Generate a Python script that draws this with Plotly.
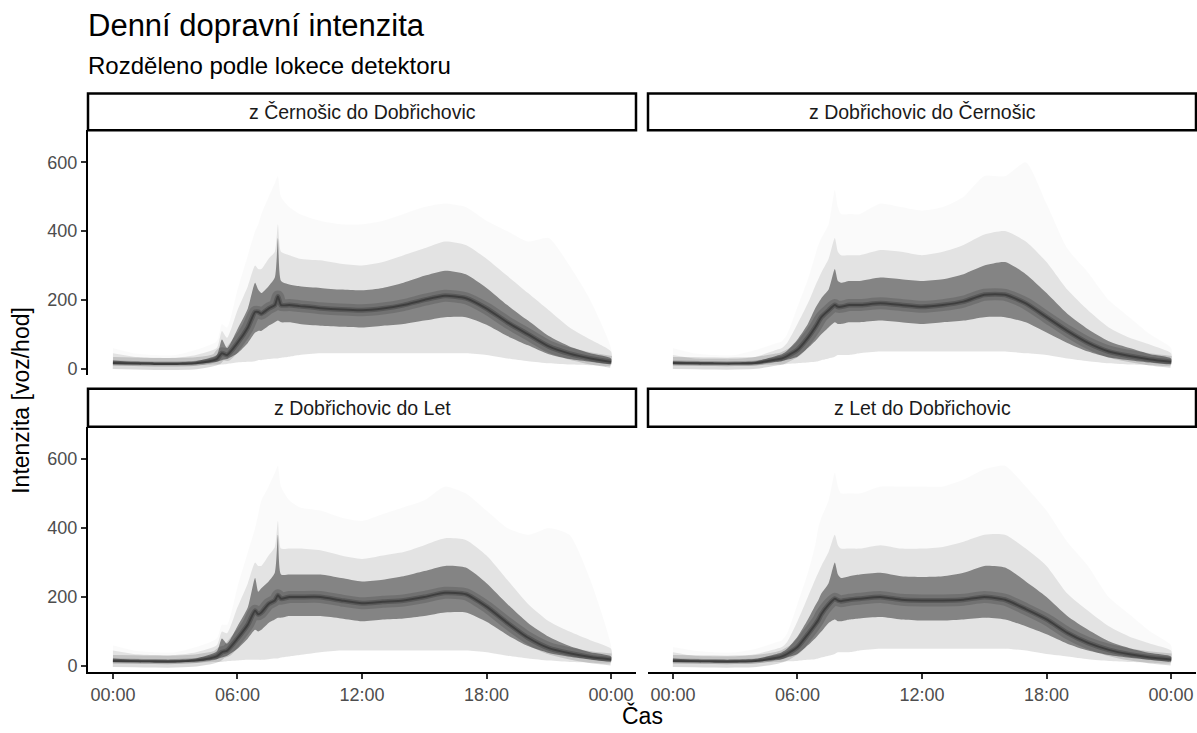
import plotly.graph_objects as go

# ---- data ----
T = [0, 1, 2, 3, 4, 5, 5.25, 5.5, 6, 6.5, 6.85, 7.0, 7.15, 7.5, 7.8, 7.95, 8.1, 8.5,
     9, 10, 11, 12, 13, 14, 15, 16, 17, 18, 19, 20, 21, 22, 23, 24]

PANELS = ["z Černošic do Dobřichovic", "z Dobřichovic do Černošic",
          "z Dobřichovic do Let", "z Let do Dobřichovic"]

# z Černošic do Dobřichovic
cd_med  = [17, 15, 14, 14, 16, 28, 45, 40, 75, 120, 165, 165, 160, 175, 185, 210, 185, 185, 182, 176, 172, 170, 175, 185, 200, 212, 205, 175, 135, 100, 65, 44, 30, 20]
cd_blo  = [13, 12, 11, 11, 13, 20, 25, 28, 45, 75, 105, 110, 110, 125, 135, 140, 135, 135, 130, 125, 122, 120, 125, 130, 140, 150, 150, 128, 95, 68, 42, 28, 20, 14]
cd_bhi  = [24, 20, 19, 19, 22, 40, 85, 60, 115, 175, 250, 230, 220, 240, 265, 380, 255, 245, 240, 235, 230, 228, 235, 250, 270, 285, 275, 235, 185, 140, 95, 65, 45, 30]
cd_low  = [10, 10, 10, 10, 10, 12, 12, 14, 18, 20, 22, 25, 25, 28, 30, 30, 32, 35, 40, 45, 45, 45, 45, 45, 45, 45, 45, 40, 30, 22, 16, 12, 10, 10]
cd_high = [45, 35, 32, 32, 40, 60, 110, 90, 170, 240, 300, 290, 290, 320, 340, 420, 340, 330, 320, 315, 305, 300, 310, 330, 350, 370, 360, 320, 270, 220, 170, 120, 85, 50]
cd_peak = [60, 45, 40, 40, 55, 80, 130, 120, 230, 330, 400, 420, 450, 500, 540, 560, 500, 470, 450, 430, 420, 420, 430, 450, 470, 480, 470, 430, 400, 370, 380, 300, 200, 60]

# z Dobřichovic do Černošic
dc_med  = [17, 16, 15, 15, 17, 27, 30, 37, 55, 90, 120, 135, 150, 170, 185, 180, 180, 185, 185, 190, 185, 180, 185, 195, 215, 215, 190, 150, 110, 75, 50, 37, 27, 20]
dc_blo  = [13, 12, 12, 12, 13, 20, 22, 26, 35, 60, 80, 90, 100, 120, 135, 130, 130, 135, 135, 140, 135, 130, 135, 140, 150, 150, 135, 105, 75, 50, 33, 25, 18, 14]
dc_bhi  = [22, 20, 19, 19, 22, 38, 42, 52, 85, 130, 175, 190, 205, 230, 290, 255, 250, 255, 255, 265, 260, 255, 260, 275, 300, 310, 275, 220, 160, 115, 80, 60, 42, 30]
dc_low  = [10, 10, 10, 10, 10, 12, 12, 14, 16, 18, 20, 22, 25, 30, 35, 40, 40, 40, 45, 50, 50, 50, 50, 50, 50, 50, 45, 40, 30, 22, 16, 12, 10, 10]
dc_high = [40, 30, 28, 28, 35, 55, 60, 75, 130, 190, 240, 260, 280, 320, 380, 340, 330, 330, 330, 345, 340, 330, 340, 360, 390, 400, 370, 310, 230, 170, 120, 90, 70, 45]
dc_peak = [60, 45, 40, 40, 55, 75, 80, 100, 180, 260, 330, 360, 380, 420, 520, 470, 450, 450, 450, 480, 470, 460, 470, 500, 560, 560, 600, 480, 350, 280, 200, 150, 100, 60]

# z Dobřichovic do Let
dl_med  = [15, 14, 13, 13, 16, 28, 40, 45, 80, 120, 160, 150, 155, 180, 190, 205, 195, 200, 200, 200, 190, 182, 186, 190, 200, 212, 208, 172, 125, 82, 52, 37, 26, 19]
dl_blo  = [12, 11, 10, 10, 13, 20, 25, 30, 50, 80, 105, 100, 105, 125, 135, 140, 140, 145, 145, 145, 138, 130, 135, 138, 145, 155, 155, 128, 90, 58, 38, 27, 19, 14]
dl_bhi  = [22, 19, 18, 18, 22, 42, 80, 65, 115, 170, 255, 215, 225, 245, 270, 380, 265, 265, 265, 265, 255, 245, 250, 260, 275, 290, 285, 240, 180, 125, 85, 58, 40, 28]
dl_low  = [10, 10, 10, 10, 10, 12, 12, 14, 16, 18, 18, 18, 18, 20, 22, 22, 25, 28, 32, 40, 45, 45, 45, 45, 45, 45, 45, 40, 30, 22, 16, 12, 10, 10]
dl_high = [45, 35, 32, 32, 40, 60, 100, 95, 170, 240, 300, 290, 290, 320, 345, 420, 340, 340, 340, 335, 320, 310, 320, 330, 350, 370, 365, 320, 250, 180, 130, 100, 75, 50]
dl_peak = [60, 45, 40, 40, 55, 80, 120, 120, 230, 330, 400, 440, 480, 520, 560, 580, 520, 480, 460, 450, 430, 420, 440, 460, 480, 520, 500, 450, 400, 380, 400, 380, 250, 60]

# z Let do Dobřichovic
ld_med  = [15, 14, 13, 13, 15, 24, 28, 35, 55, 92, 120, 133, 150, 178, 195, 190, 188, 192, 195, 200, 192, 190, 190, 192, 200, 192, 165, 135, 96, 67, 47, 34, 25, 19]
ld_blo  = [12, 11, 10, 10, 12, 18, 20, 25, 35, 60, 80, 90, 100, 125, 135, 130, 130, 135, 138, 142, 135, 132, 132, 135, 140, 135, 115, 92, 65, 45, 32, 24, 18, 14]
ld_bhi  = [22, 19, 18, 18, 21, 35, 40, 50, 85, 135, 175, 190, 210, 240, 300, 265, 255, 260, 265, 270, 260, 258, 260, 270, 290, 285, 245, 200, 145, 105, 72, 52, 38, 28]
ld_low  = [10, 10, 10, 10, 10, 12, 12, 14, 15, 18, 20, 22, 25, 30, 35, 40, 40, 40, 45, 50, 50, 50, 50, 50, 50, 50, 45, 35, 28, 20, 15, 12, 10, 10]
ld_high = [40, 30, 28, 28, 35, 50, 55, 70, 130, 200, 250, 270, 290, 330, 380, 350, 340, 340, 340, 350, 340, 340, 345, 360, 380, 380, 340, 290, 210, 160, 115, 85, 65, 45]
ld_peak = [55, 45, 40, 40, 50, 70, 75, 95, 180, 270, 350, 400, 430, 480, 560, 520, 500, 500, 500, 520, 520, 520, 520, 540, 570, 580, 520, 450, 360, 290, 200, 150, 100, 60]

X_TICKS = [0, 6, 12, 18, 24]
X_TICKTEXT = ["00:00", "06:00", "12:00", "18:00", "00:00"]
Y_TICKS = [0, 200, 400, 600]

series = [
    (cd_med, cd_blo, cd_bhi, cd_low, cd_high, cd_peak),
    (dc_med, dc_blo, dc_bhi, dc_low, dc_high, dc_peak),
    (dl_med, dl_blo, dl_bhi, dl_low, dl_high, dl_peak),
    (ld_med, ld_blo, ld_bhi, ld_low, ld_high, ld_peak),
]

# ---- layout geometry ----
W, H = 1197, 733
FONT = "Liberation Sans, Arial, Helvetica, sans-serif"
XL = [88 / W, 636 / W]
XR = [648 / W, 1196 / W]
YT = [1 - 377 / H, 1 - 131 / H]
YB = [1 - 676 / H, 1 - 429 / H]
doms = [(XL, YT), (XR, YT), (XL, YB), (XR, YB)]

fig = go.Figure()


def band(xa, ya, lo, hi, alpha):
    xs = list(T) + list(reversed(T))
    ys = list(hi) + list(reversed(lo))
    fig.add_trace(go.Scatter(x=xs, y=ys, xaxis=xa, yaxis=ya, mode="lines",
                             fill="toself", fillcolor=f"rgba(0,0,0,{alpha})",
                             line=dict(width=0, shape="spline", smoothing=0.6),
                             hoverinfo="skip", showlegend=False))


def core(xa, ya, med, width, alpha):
    fig.add_trace(go.Scatter(x=T, y=med, xaxis=xa, yaxis=ya, mode="lines",
                             line=dict(color=f"rgba(0,0,0,{alpha})", width=width,
                                       shape="spline", smoothing=0.6),
                             hoverinfo="skip", showlegend=False))


for i, (med, blo, bhi, low, high, peak) in enumerate(series):
    xa = "x" if i == 0 else f"x{i+1}"
    ya = "y" if i == 0 else f"y{i+1}"
    band(xa, ya, low, peak, 0.02)
    band(xa, ya, low, high, 0.09)
    band(xa, ya, blo, bhi, 0.42)
    core(xa, ya, med, 12, 0.14)
    core(xa, ya, med, 5, 0.2)
    core(xa, ya, med, 2, 0.3)

layout = dict(
    width=W, height=H, autosize=False,
    margin=dict(l=0, r=0, t=0, b=0),
    paper_bgcolor="white", plot_bgcolor="white",
    font=dict(family=FONT, color="black"),
    showlegend=False,
)

for i, (xd, yd) in enumerate(doms):
    xk = "xaxis" if i == 0 else f"xaxis{i+1}"
    yk = "yaxis" if i == 0 else f"yaxis{i+1}"
    ya = "y" if i == 0 else f"y{i+1}"
    xa = "x" if i == 0 else f"x{i+1}"
    bottom = i >= 2
    left = i % 2 == 0
    layout[xk] = dict(
        domain=xd, anchor=ya, range=[-1.2, 25.2], tickvals=X_TICKS, ticktext=X_TICKTEXT,
        showgrid=False, zeroline=False,
        showline=bottom, linecolor="black", linewidth=2,
        ticks="outside" if bottom else "", ticklen=5, tickwidth=1.5, tickcolor="#333333",
        showticklabels=bottom, tickfont=dict(size=18, color="#4D4D4D", family=FONT),
    )
    layout[yk] = dict(
        domain=yd, anchor=xa, range=[-18, 693], tickvals=Y_TICKS,
        showgrid=False, zeroline=False,
        showline=left, linecolor="black", linewidth=2,
        ticks="outside" if left else "", ticklen=5, tickwidth=1.5, tickcolor="#333333",
        showticklabels=left, tickfont=dict(size=18, color="#4D4D4D", family=FONT),
    )

shapes = []
annotations = []
strip_y = [(1 - 131 / H, 1 - 94 / H), (1 - 131 / H, 1 - 94 / H),
           (1 - 429 / H, 1 - 391 / H), (1 - 429 / H, 1 - 391 / H)]
for i, name in enumerate(PANELS):
    xd = doms[i][0]
    y0, y1 = strip_y[i]
    shapes.append(dict(type="rect", xref="paper", yref="paper", x0=xd[0], x1=xd[1],
                       y0=y0, y1=y1, line=dict(color="black", width=2.5),
                       fillcolor="white", layer="above"))
    annotations.append(dict(text=name, xref="paper", yref="paper",
                            x=(xd[0] + xd[1]) / 2, y=(y0 + y1) / 2,
                            xanchor="center", yanchor="middle", showarrow=False,
                            font=dict(size=19.5, color="#1A1A1A", family=FONT)))

annotations.append(dict(text="Denní dopravní intenzita", xref="paper", yref="paper",
                        x=86 / W, y=1 - 26 / H, xanchor="left", yanchor="middle",
                        showarrow=False, font=dict(size=31, color="black", family=FONT)))
annotations.append(dict(text="Rozděleno podle lokece detektoru", xref="paper", yref="paper",
                        x=86 / W, y=1 - 66 / H, xanchor="left", yanchor="middle",
                        showarrow=False, font=dict(size=24, color="black", family=FONT)))
annotations.append(dict(text="Čas", xref="paper", yref="paper",
                        x=642 / W, y=1 - 719 / H, xanchor="center", yanchor="middle",
                        showarrow=False, font=dict(size=23, color="black", family=FONT)))
annotations.append(dict(text="Intenzita [voz/hod]", xref="paper", yref="paper",
                        x=21 / W, y=1 - 403 / H, xanchor="center", yanchor="middle",
                        textangle=-90, showarrow=False,
                        font=dict(size=23, color="black", family=FONT)))

layout["shapes"] = shapes
layout["annotations"] = annotations
fig.update_layout(**layout)

fig.write_html("out.html")
